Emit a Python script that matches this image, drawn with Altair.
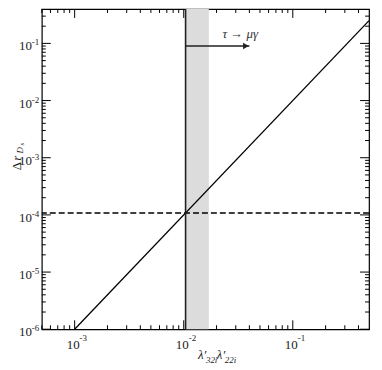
import altair as alt
import pandas as pd

W, H = 329, 322
FONT = "Liberation Serif, Times New Roman, Times, serif"

# ---- data ----
line_x = [0.001, 0.5]
line_y = [1e-6, 0.25]
bound_y = [1.08e-4]
bound_x = [0.0104]
band_lo = [0.0104]
band_hi = [0.017]
arrow_x0 = [0.0104]
arrow_x1 = [0.04]
arrow_y = [0.09]
head_x = [0.0372]
note_x = [0.033]
note_y = [0.125]
note_text = ["τ → μγ"]

x_major = [1e-3, 1e-2, 1e-1]
x_exp = ["-3", "-2", "-1"]
y_major = [1e-6, 1e-5, 1e-4, 1e-3, 1e-2, 1e-1]
y_exp = ["-6", "-5", "-4", "-3", "-2", "-1"]
x_minor = [5e-4, 6e-4, 7e-4, 8e-4, 9e-4,
           2e-3, 3e-3, 4e-3, 5e-3, 6e-3, 7e-3, 8e-3, 9e-3,
           2e-2, 3e-2, 4e-2, 5e-2, 6e-2, 7e-2, 8e-2, 9e-2,
           2e-1, 3e-1, 4e-1]
y_minor = [2e-6, 3e-6, 4e-6, 5e-6, 6e-6, 7e-6, 8e-6, 9e-6,
           2e-5, 3e-5, 4e-5, 5e-5, 6e-5, 7e-5, 8e-5, 9e-5,
           2e-4, 3e-4, 4e-4, 5e-4, 6e-4, 7e-4, 8e-4, 9e-4,
           2e-3, 3e-3, 4e-3, 5e-3, 6e-3, 7e-3, 8e-3, 9e-3,
           2e-2, 3e-2, 4e-2, 5e-2, 6e-2, 7e-2, 8e-2, 9e-2,
           2e-1, 3e-1]

xs = alt.Scale(type="log", domain=[5e-4, 0.5], nice=False)
ys = alt.Scale(type="log", domain=[1e-6, 0.4], nice=False)

def X(f="x"):
    return alt.X(f"{f}:Q", scale=xs, axis=None)

def Y(f="y"):
    return alt.Y(f"{f}:Q", scale=ys, axis=None)

band = alt.Chart(pd.DataFrame({"x": band_lo, "x2": band_hi})).mark_rect(
    color="#dcdcdc").encode(x=X(), x2="x2:Q")

curve = alt.Chart(pd.DataFrame({"x": line_x, "y": line_y})).mark_line(
    color="black", strokeWidth=1.3, clip=True).encode(x=X(), y=Y())

hline = alt.Chart(pd.DataFrame({"y": bound_y})).mark_rule(
    color="black", strokeWidth=1.3, strokeDash=[6, 3]).encode(y=Y())

vline = alt.Chart(pd.DataFrame({"x": bound_x})).mark_rule(
    color="#222222", strokeWidth=1.6).encode(x=X())

arrow = alt.Chart(pd.DataFrame({"x": arrow_x0, "x2": arrow_x1, "y": arrow_y})).mark_rule(
    color="#222222", strokeWidth=1.6).encode(x=X(), x2="x2:Q", y=Y())

head = alt.Chart(pd.DataFrame({"x": head_x, "y": arrow_y})).mark_point(
    shape="triangle-right", filled=True, color="#222222", opacity=1, size=45).encode(x=X(), y=Y())

note = alt.Chart(pd.DataFrame({"x": note_x, "y": note_y, "t": note_text})).mark_text(
    font=FONT, fontSize=13, fontStyle="italic", align="center", baseline="alphabetic",
    color="#333333").encode(x=X(), y=Y(), text="t:N")

# inward ticks on all four sides
def xticks(vals, length):
    d = pd.DataFrame({"x": vals})
    bot = alt.Chart(d).mark_rule(color="black", strokeWidth=1).encode(
        x=X(), y=alt.value(H), y2=alt.value(H - length))
    top = alt.Chart(d).mark_rule(color="black", strokeWidth=1).encode(
        x=X(), y=alt.value(0), y2=alt.value(length))
    return [bot, top]

def yticks(vals, length):
    d = pd.DataFrame({"y": vals})
    left = alt.Chart(d).mark_rule(color="black", strokeWidth=1).encode(
        y=Y(), x=alt.value(0), x2=alt.value(length))
    right = alt.Chart(d).mark_rule(color="black", strokeWidth=1).encode(
        y=Y(), x=alt.value(W), x2=alt.value(W - length))
    return [left, right]

ticks = xticks(x_major, 9) + xticks(x_minor, 4) + yticks(y_major, 9) + yticks(y_minor, 4)

# tick labels 10^n
xl = pd.DataFrame({"x": x_major, "e": x_exp})
xlab10 = alt.Chart(xl).mark_text(font=FONT, fontSize=13, align="right", dx=5,
                                 baseline="alphabetic", color="#222222").encode(
    x=X(), y=alt.value(H + 20), text=alt.value("10"))
xlabe = alt.Chart(xl).mark_text(font=FONT, fontSize=9, align="left", dx=5,
                                baseline="alphabetic", color="#222222").encode(
    x=X(), y=alt.value(H + 12), text="e:N")

yl = pd.DataFrame({"y": y_major, "e": y_exp})
ylab10 = alt.Chart(yl).mark_text(font=FONT, fontSize=13, align="right", dx=-10, dy=7,
                                 baseline="alphabetic", color="#222222").encode(
    y=Y(), x=alt.value(0), text=alt.value("10"))
ylabe = alt.Chart(yl).mark_text(font=FONT, fontSize=9, align="left", dx=-10, dy=2,
                                baseline="alphabetic", color="#222222").encode(
    y=Y(), x=alt.value(0), text="e:N")

# axis titles
def txt(s, x, y, size, style="italic", angle=0, align="left"):
    return alt.Chart(pd.DataFrame({"t": [s]})).mark_text(
        font=FONT, fontSize=size, fontStyle=style, angle=angle, align=align,
        baseline="alphabetic", color="#222222").encode(
        x=alt.value(x), y=alt.value(y), text="t:N")

xtitle = [
    txt("λ′", 157, H + 30, 13),
    txt("32i", 165, H + 34, 9),
    txt("λ′", 176, H + 30, 13),
    txt("22i", 184, H + 34, 9),
]
ytitle = [
    txt("Δ", -21, 158, 13, style="normal", angle=270, align="center"),
    txt("r", -21, 150, 13, angle=270, align="center"),
    txt("D", -19, 142, 9, angle=270, align="center"),
    txt("s", -18, 136, 7, angle=270, align="center"),
]

chart = alt.layer(
    band, curve, hline, vline, arrow, head, note, *ticks,
    xlab10, xlabe, ylab10, ylabe, *xtitle, *ytitle
).properties(
    width=W, height=H,
    autosize=alt.AutoSizeParams(type="none"),
    padding={"left": 34, "top": 0, "right": 5, "bottom": 40},
).configure_view(stroke="black", strokeWidth=1.2)

chart.save("out.html", embed_options={"renderer": "svg", "actions": False})
